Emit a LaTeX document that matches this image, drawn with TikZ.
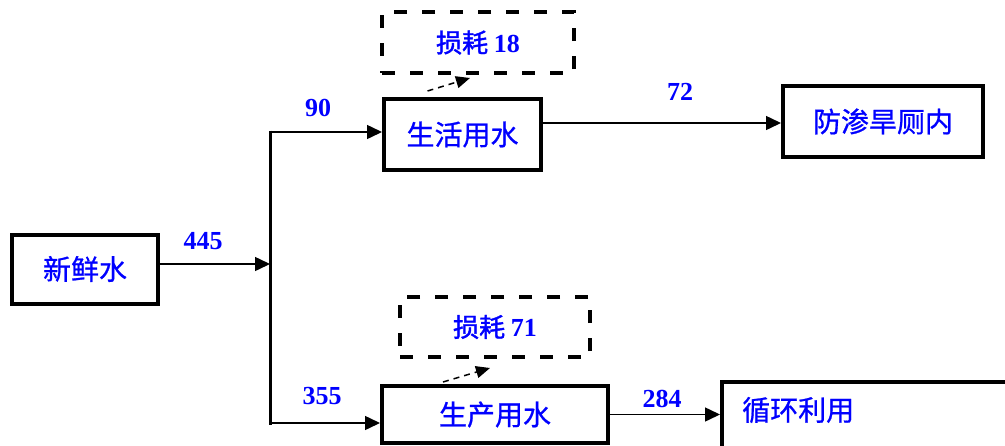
\documentclass[tikz,border=0pt]{standalone}
\usepackage{fontspec}
\newfontfamily\cjk{Noto Sans CJK SC}[FakeBold=0.8]
\newfontfamily\cjkb{Noto Sans CJK SC}[FakeBold=1.6]
\newfontfamily\numf{Liberation Serif}
\usetikzlibrary{arrows.meta,calc}
\definecolor{tblue}{RGB}{0,0,255}
\begin{document}
\begin{tikzpicture}[x=1pt,y=-1pt,
  box/.style={draw=black,line width=4pt,inner sep=0pt,fill=white,
    font=\cjk\fontsize{28}{32}\selectfont,text=tblue},
  dbox/.style={draw=black,line width=4pt,dash pattern=on 13pt off 15pt,inner sep=0pt,
    font=\cjkb\fontsize{26}{30}\selectfont,text=tblue},
  num/.style={font=\numf\bfseries\fontsize{26}{30}\selectfont,text=tblue,inner sep=0pt},
  conn/.style={line width=1.5pt,-{Triangle[length=15pt,width=14pt]}},
  vline/.style={line width=3pt},
  lossarrow/.style={line width=1.5pt,dash pattern=on 6pt off 5pt,-{Triangle[length=14pt,width=12pt]}}]
\clip (0,0) rectangle (1005,445);
\fill[white] (0,0) rectangle (1005,445);
% boxes
\node[box,minimum width=146,minimum height=69] (xx) at (85,269) {新鲜水};
\node[box,minimum width=157,minimum height=71] (sh) at (462.5,134.5) {生活用水};
\node[dbox,minimum width=192,minimum height=61] (sl) at (478,42.5) {损耗 {\numf\bfseries 18}};
\node[box,minimum width=200,minimum height=71] (fs) at (883,121.5) {防渗旱厕内};
\node[box,minimum width=226,minimum height=57] (sc) at (495,414.5) {生产用水};
\node[dbox,minimum width=190,minimum height=60] (sl2) at (495,327) {损耗 {\numf\bfseries 71}};
\node[box,minimum width=300,minimum height=80,anchor=north west] (xh) at (720,380) {};
\node[font=\cjk\fontsize{28}{32}\selectfont,text=tblue,anchor=west,inner sep=0pt] (xht) at (742,410) {循环利用};
% junction
\coordinate (jt) at (270,132);
\coordinate (jm) at (270,264);
\coordinate (jb) at (270,423);
\draw[vline] ($(jt)+(0,-1.5)$) -- ($(jb)+(0,1.5)$);
\draw[conn] (xx.east |- jm) -- (jm);
\draw[conn] (jt) -- (sh.west |- jt);
\draw[conn] (jb) -- (sc.west |- jb);
\coordinate (ra) at (0,123);
\draw[conn] (sh.east |- ra) -- (fs.west |- ra);
\draw[conn] (sc.east) -- (xh.west |- sc.east);
% loss arrows
\draw[lossarrow] ($(sh.north)+(-35,-6)$) -- ($(sl.south)+(-8,3)$);
\draw[lossarrow] ($(sc.north)+(-52,-2)$) -- ($(sl2.south)+(-5,9)$);
% labels
\node[num] (n445) at (203,241) {445};
\node[num] (n90) at (318,108) {90};
\node[num] (n72) at (680,92) {72};
\node[num] (n355) at (322,396) {355};
\node[num] (n284) at (662,399) {284};
\end{tikzpicture}
\end{document}
